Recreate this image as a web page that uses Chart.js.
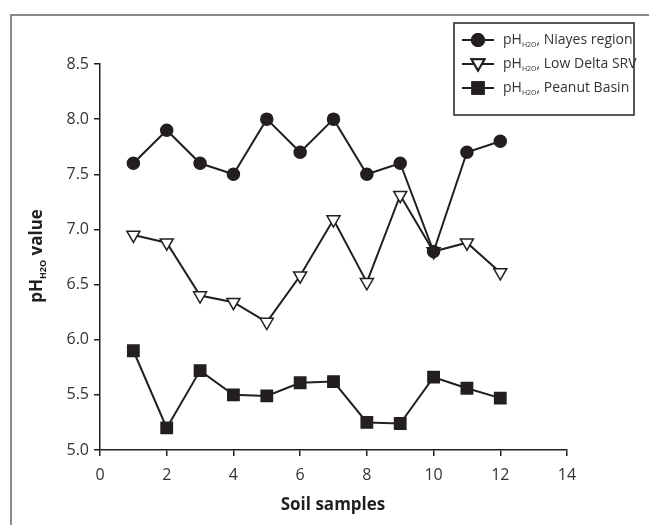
<!DOCTYPE html>
<html>
<head>
<meta charset="utf-8">
<script src="https://cdn.jsdelivr.net/npm/chart.js@4.4.0/dist/chart.umd.min.js"></script>
<style>
  html, body { margin: 0; padding: 0; background: #fff; }
  #wrap { width: 649px; height: 525px; }
</style>
</head>
<body>
<div id="wrap"><canvas id="chart" width="649" height="525"></canvas></div>
<script>
// Data
const samples = [1, 2, 3, 4, 5, 6, 7, 8, 9, 10, 11, 12];
const niayes = [7.6, 7.9, 7.6, 7.5, 8.0, 7.7, 8.0, 7.5, 7.6, 6.8, 7.7, 7.8];
const lowDelta = [6.95, 6.88, 6.40, 6.34, 6.16, 6.58, 7.09, 6.52, 7.31, 6.80, 6.88, 6.61];
const peanut = [5.9, 5.2, 5.72, 5.5, 5.49, 5.61, 5.62, 5.25, 5.24, 5.66, 5.56, 5.47];
const seriesNames = ['Niayes region', 'Low Delta SRV', 'Peanut Basin'];
const xTicks = [0, 2, 4, 6, 8, 10, 12, 14];
const yTicks = [5.0, 5.5, 6.0, 6.5, 7.0, 7.5, 8.0, 8.5];

const INK = '#231f20';
const FONT = '"Open Sans", "Liberation Sans", sans-serif';

const toPoints = vals => vals.map((v, i) => ({ x: samples[i], y: v }));

// draws "pH" + subscript "H2O" + rest
function drawPhText(ctx, x, y, rest, size, bold) {
    const w = bold ? 'bold ' : '';
    ctx.font = w + size + 'px ' + FONT;
    ctx.fillText('pH', x, y);
    x += ctx.measureText('pH').width;
    ctx.font = w + Math.round(size * 0.5) + 'px ' + FONT;
    ctx.fillText('H2O', x, y + size * 0.35);
    x += ctx.measureText('H2O').width;
    ctx.font = w + size + 'px ' + FONT;
    ctx.fillText(rest, x, y);
}

function phTextWidth(ctx, rest, size, bold) {
    const w = bold ? 'bold ' : '';
    ctx.font = w + size + 'px ' + FONT;
    let width = ctx.measureText('pH').width + ctx.measureText(rest).width;
    ctx.font = w + Math.round(size * 0.5) + 'px ' + FONT;
    return width + ctx.measureText('H2O').width;
}

const decorPlugin = {
    id: 'decor',
    afterDraw(chart) {
        const ctx = chart.ctx;
        ctx.save();

        // outer frame (only left and top visible)
        ctx.strokeStyle = '#8a8a8a';
        ctx.lineWidth = 2;
        ctx.beginPath();
        ctx.moveTo(11, 525);
        ctx.lineTo(11, 15);
        ctx.lineTo(649, 15);
        ctx.stroke();

        // axis titles
        ctx.fillStyle = INK;
        ctx.textBaseline = 'middle';
        ctx.textAlign = 'left';
        ctx.font = 'bold 17px ' + FONT;
        const xt = 'Soil samples';
        ctx.fillText(xt, 333 - ctx.measureText(xt).width / 2, 505);

        ctx.save();
        ctx.translate(37, 256);
        ctx.rotate(-Math.PI / 2);
        const yw = phTextWidth(ctx, ' value', 17, true);
        drawPhText(ctx, -yw / 2, 0, ' value', 17, true);
        ctx.restore();

        // legend
        ctx.strokeStyle = INK;
        ctx.lineWidth = 1.5;
        ctx.strokeRect(454, 23, 180, 92);
        const rows = [40, 64, 88];
        chart.data.datasets.forEach((ds, i) => {
            const y = rows[i];
            ctx.strokeStyle = INK;
            ctx.lineWidth = 2;
            ctx.beginPath();
            ctx.moveTo(462, y);
            ctx.lineTo(494, y);
            ctx.stroke();
            Chart.helpers.drawPoint(ctx, {
                pointStyle: ds.pointStyle,
                radius: ds.pointRadius,
                rotation: ds.pointRotation || 0,
                borderWidth: 1.5
            }, 478, ds.pointStyle === 'triangle' ? y - 1 : y);
            ctx.fillStyle = ds.pointBackgroundColor;
            ctx.fill();
            ctx.stroke();
            ctx.fillStyle = '#333';
            drawPhText(ctx, 503, y, ', ' + seriesNames[i], 14, false);
        });
        ctx.restore();
    }
};

const baseSet = {
    borderColor: INK,
    borderWidth: 2,
    pointBorderColor: INK,
    pointBorderWidth: 1.5,
    tension: 0
};

new Chart(document.getElementById('chart'), {
    type: 'line',
    data: {
        datasets: [
            Object.assign({}, baseSet, {
                label: seriesNames[0],
                data: toPoints(niayes),
                pointStyle: 'circle',
                pointRadius: 6,
                pointBackgroundColor: INK
            }),
            Object.assign({}, baseSet, {
                label: seriesNames[1],
                data: toPoints(lowDelta),
                pointStyle: 'triangle',
                pointRotation: 180,
                pointRadius: 7.5,
                pointBackgroundColor: '#ffffff'
            }),
            Object.assign({}, baseSet, {
                label: seriesNames[2],
                data: toPoints(peanut),
                pointStyle: 'rect',
                pointRadius: 8,
                pointBackgroundColor: INK
            })
        ]
    },
    options: {
        responsive: false,
        animation: false,
        layout: { padding: { left: 0, top: 64, right: 82, bottom: 0 } },
        plugins: {
            legend: { display: false },
            tooltip: { enabled: false }
        },
        scales: {
            x: {
                type: 'linear',
                min: 0,
                max: 14,
                afterBuildTicks: scale => { scale.ticks = xTicks.map(v => ({ value: v })); },
                afterFit: scale => { scale.height = 75; },
                grid: { drawOnChartArea: false, color: INK, tickLength: 6, lineWidth: 1.5 },
                border: { color: INK, width: 1.5 },
                ticks: { color: '#333', font: { family: FONT, size: 16 }, padding: 10, maxRotation: 0 }
            },
            y: {
                min: 5,
                max: 8.5,
                afterBuildTicks: scale => { scale.ticks = yTicks.map(v => ({ value: v })); },
                afterFit: scale => { scale.width = 100; },
                grid: { drawOnChartArea: false, color: INK, tickLength: 6, lineWidth: 1.5 },
                border: { color: INK, width: 1.5 },
                ticks: { color: '#333', font: { family: FONT, size: 16 }, padding: 5, callback: v => v.toFixed(1) }
            }
        }
    },
    plugins: [decorPlugin]
});
</script>
</body>
</html>
